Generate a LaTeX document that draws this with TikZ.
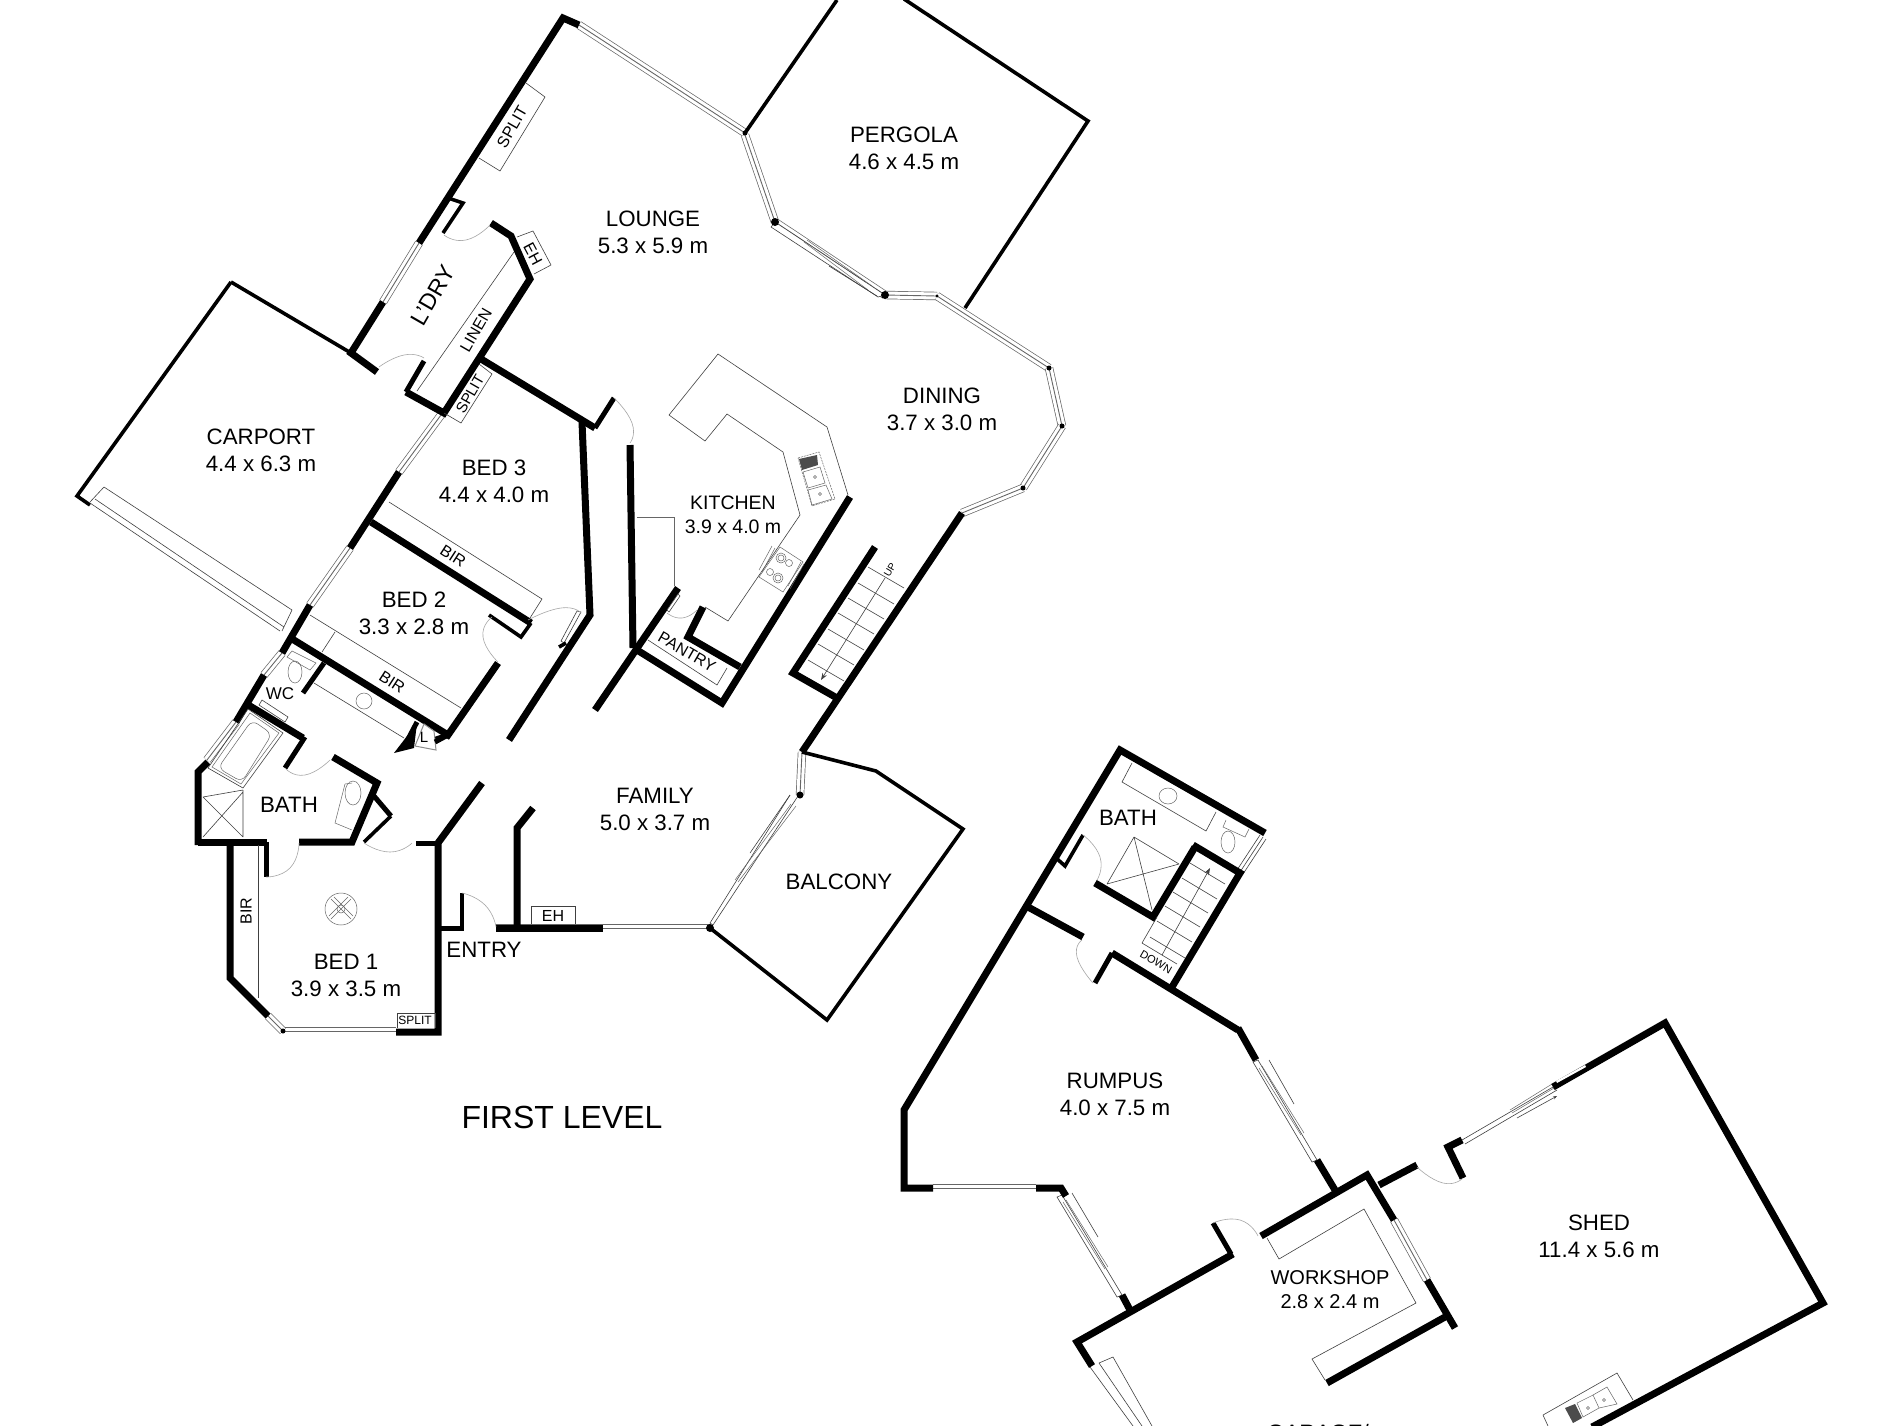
\documentclass[tikz,border=0pt]{standalone}
\usepackage{fontspec}
\setmainfont{Liberation Sans}
\usetikzlibrary{arrows.meta}
\tikzset{
 wall/.style={draw=black,line width=7pt,line join=miter,line cap=butt},
 wallm/.style={draw=black,line width=5pt,line join=miter,line cap=butt},
 walls/.style={draw=black,line width=3.6pt,line join=miter,line cap=butt},
 win/.style={draw=black!60,line width=8.4pt,postaction={draw=white,line width=7pt},postaction={draw=black!60,line width=.9pt}},
 thin/.style={draw=black!75,line width=.6pt},
 fit2/.style={draw=black!60,line width=.5pt},
 swing/.style={draw=black!35,line width=.6pt},
 lbl/.style={font=\fontsize{22.3}{27}\selectfont,align=center,inner sep=0pt,text=black},
 midl/.style={font=\fontsize{19.5}{24}\selectfont,align=center,inner sep=0pt},
 tag/.style={font=\fontsize{16}{16}\selectfont,inner sep=0pt},
 tiny/.style={font=\fontsize{11}{11}\selectfont,inner sep=0pt},
 blob/.style={fill=black},
}
\begin{document}
\begin{tikzpicture}[x=1pt,y=-1pt]
\useasboundingbox (0,0) rectangle (1900,1425);
\fill[white] (0,0) rectangle (1900,1425);
\clip (0,0) rectangle (1900,1425);

% === Windows ===
\path[win] (579,25) -- (745,133);
\path[win] (745,135) -- (775,222);
\path[win] (775,222) -- (885,295);
\path[win] (885,295) -- (937,296);
\path[win] (937,296) -- (1049,368);
\path[win] (1049,368) -- (1062,426);
\path[win] (1062,426) -- (1023,488);
\path[win] (1023,488) -- (962,513);
\path[win] (419,243) -- (383,302);
\path[win] (441,415) -- (399,472);
\path[win] (350,548) -- (310,605);
\path[win] (282,653) -- (264,675);
\path[win] (236,722) -- (207,760);
\path[win] (802,752) -- (800,795);
\path[win] (496,928) -- (710,928);
\path[win] (396,1031) -- (283,1031);
\path[win] (283,1031) -- (268,1016);
\path[win] (933,1188) -- (1036,1188);
\path[win] (1394,1220) -- (1427,1280);

% sliding doors
\draw[thin,fill=white] (798,796) -- (713,925) -- (710,923) -- (790,795);
\draw[fit2] (796,806) -- (738,882) (791,804) -- (735,880);
\draw[thin] (790,795) -- (750,853);
\draw[thin,fill=white] (775,222) -- (885,295) -- (878,297) -- (771,227) -- cycle;
\draw[fit2] (804,242) -- (868,290) (807,240) -- (872,286);
\draw[thin] (829,266) -- (877,296);
\draw[thin,fill=white] (1258,1060) -- (1317,1160) -- (1312,1162) -- (1253,1062) -- cycle;
\draw[fit2] (1262,1066) -- (1304,1133) (1259,1068) -- (1301,1135);
\draw[thin] (1269,1060) -- (1294,1104);
\draw[thin,fill=white] (1062,1195) -- (1122,1295) -- (1117,1297) -- (1057,1197) -- cycle;
\draw[fit2] (1066,1200) -- (1108,1267) (1063,1202) -- (1105,1269);
\draw[thin] (1072,1193) -- (1098,1237);
\draw[thin] (1462,1140) -- (1553,1087) (1465,1144) -- (1557,1090);
\draw[fit2] (1510,1110) -- (1552,1084) (1512,1113) -- (1554,1088);
\draw[thin,-{Stealth[length=4pt]}] (1517,1118) -- (1557,1096);

% === Outdoor outlines ===
\draw[walls] (745,133) -- (837,0);
\draw[walls] (904,-1) -- (1088,121) -- (965,308);
\draw[walls] (802,752) -- (876,771) -- (963,829) -- (827,1020) -- (710,928);
\draw[walls] (231,282) -- (77,496) -- (90,505);
\draw[walls] (231,282) -- (351,353);

% carport door
\draw[thin] (104,487) -- (292,610) -- (282,631) (90,502) -- (104,487);
\draw[thin] (95,499) -- (284,627);
\draw[thin] (90,503) -- (280,631);

% === Main walls, first level ===
\draw[wall] (579,25) -- (563,18) -- (419,243);
\draw[wall] (383,302) -- (351,353) -- (377,372);
\draw[walls] (448,198) -- (463,203) -- (443,233);
\draw[wall] (491,223) -- (511,236) -- (530,279) -- (444,413) -- (406,392);
\draw[wallm] (406,392) -- (424,361);
\draw[wall] (481,359) -- (595,428);
\draw[wallm] (595,428) -- (614,398);
\draw[wall] (399,472) -- (350,548);
\draw[wall] (310,605) -- (282,653);
\draw[wall] (264,675) -- (236,722);
\draw[wall] (371,522) -- (531,623);
\draw[walls] (531,623) -- (521,637) -- (489,615);
\draw[wall] (582,422) -- (590,615) -- (509,740);
\draw[wall] (289,637) -- (448,735) -- (498,663);
\draw[wallm] (448,735) -- (433,740);
\draw[wallm] (324,663) -- (303,693);
\draw[wall] (245,703) -- (303,738);
\draw[wallm] (305,737) -- (285,768);
\draw[walls] (248,703) -- (245,710);
\draw[wall] (333,757) -- (377,783) -- (352,842) -- (299,842);
\draw[wallm] (374,796) -- (391,816);
\draw[walls] (391,816) -- (364,842);
\draw[wall] (198,842) -- (267,842);
\draw[wallm] (266,842) -- (266,877);
\draw[wall] (198,845) -- (198,772) -- (208,762);
\draw[wall] (230,843) -- (230,978) -- (268,1016);
\draw[wall] (482,783) -- (438,843) -- (438,1032) -- (396,1032);
\draw[wallm] (438,843) -- (416,843);
\draw[wallm] (438,928) -- (464,928);
\draw[walls] (462,929) -- (462,893);
\draw[wall] (496,928) -- (603,928);
\draw[wall] (517,928) -- (517,828) -- (533,808);
\draw[wall] (630,445) -- (633,648);
\draw[wall] (678,588) -- (595,710);
\draw[wall] (850,497) -- (722,703) -- (637,650);
\draw[wall] (740,667) -- (688,637) -- (703,607);
\draw[wall] (875,547) -- (793,673) -- (837,698);
\draw[wall] (962,513) -- (802,752);
\fill[blob] (745,133) circle (2.5);
\fill[blob] (775,222) circle (4);
\fill[blob] (885,295) circle (4);
\fill[blob] (937,296) circle (1.6);
\fill[blob] (1049,368) circle (2.5);
\fill[blob] (1062,426) circle (2.5);
\fill[blob] (1023,488) circle (2.5);
\fill[blob] (800,795) circle (3.5);
\fill[blob] (710,928) circle (4);
\fill[blob] (283,1031) circle (2.5);
\fill[blob] (417,723) -- (394,753) -- (414,748) -- cycle;
% L cupboard
\draw[draw=black!45,line width=1pt,fill=white] (424,724) -- (434,731) -- (436,750) -- (415,746) -- cycle;
\draw[wallm] (417,722) -- (405,745);
\draw[wallm] (448,735) -- (435,742);
\node[tag,font=\fontsize{15}{15}\selectfont] (lcup) at (424,737) {L};

% corridor slider & stubs
\draw[thin,fill=white] (581,612) -- (564,643) -- (561,641) -- (577,611) -- cycle;
\draw[walls] (559,647) -- (566,643);
\draw[thin,fill=white] (262,700) -- (288,717) -- (285,722) -- (259,705) -- cycle;
\draw[fit2] (674,586) -- (674,517) -- (637,517);
\draw[thin,fill=white] (669,612) -- (680,596) -- (678,594) -- (667,610) -- cycle;

% Door swings
\draw[swing] plot[smooth,tension=1] coordinates {(444,235) (466,240) (490,225)};
\draw[swing] plot[smooth,tension=1] coordinates {(379,367) (404,355) (424,358)};
\draw[swing] plot[smooth,tension=1] coordinates {(614,398) (632,423) (630,443)};
\draw[swing] plot[smooth,tension=1] coordinates {(492,617) (483,637) (498,662)};
\draw[swing] plot[smooth,tension=1] coordinates {(528,620) (561,608) (581,613)};
\draw[swing] plot[smooth,tension=1] coordinates {(667,613) (682,618) (697,610)};
\draw[swing] plot[smooth,tension=1] coordinates {(285,768) (305,775) (330,760)};
\draw[swing] plot[smooth,tension=1] coordinates {(364,843) (390,852) (412,843)};
\draw[swing] plot[smooth,tension=1] coordinates {(266,877) (290,868) (299,843)};
\draw[swing] plot[smooth,tension=1] coordinates {(462,893) (485,905) (496,927)};

% thin fixtures first level
\draw[thin] (526,83) -- (545,97) -- (500,171) -- (479,158);
\draw[thin] (517,237) -- (533,231) -- (551,265) -- (534,274);
\draw[thin] (514,252) -- (417,391);
\draw[thin] (479,364) -- (492,374) -- (461,423) -- (444,413);
\draw[thin] (389,502) -- (542,599) -- (530,618);
\draw[thin] (310,615) -- (461,708);
\draw[thin] (335,632) -- (322,652);
\draw[thin] (314,683) -- (404,738);
\draw[fit2] (364,701) circle (8);
\draw[fit2] (295,672) ellipse (7 and 11);
\draw[fit2] (300,655) -- (292,651) -- (287,657) -- (310,670) -- (316,663) -- (300,655);
\draw[thin] (531,924) -- (531,906) -- (575,906) -- (575,924);
\draw[thin] (397,1028) -- (397,1013) -- (435,1013) -- (435,1028);
\draw[thin] (258,845) -- (258,998);
\draw[fit2] (341,909) circle (16);
\draw[fit2] (341,909) circle (4);
\draw[fit2] (331,899) -- (351,919) (351,899) -- (331,919);
\draw[fit2] (334,897) -- (353,916) (348,897) -- (329,916);
% bath
\draw[thin] (248,709) -- (283,733) -- (243,788) -- (208,768) -- cycle;
\draw[fit2] (250,713) -- (279,733) -- (241,784) -- (212,767) -- cycle;
\draw[fit2,rounded corners=7pt] (252,720) -- (272,734) -- (242,782) -- (218,768) -- cycle;
\draw[thin] (203,797) -- (243,837) (203,837) -- (243,792) (243,790) -- (243,837) (203,797) -- (243,790);
\draw[fit2] (353,793) ellipse (8 and 12);
\draw[fit2] (352,783) -- (345,784) -- (335,823) -- (352,830);
% kitchen benches
\draw[thin] (705,607) -- (728,621) -- (800,515) -- (783,452) -- (727,414) -- (705,441) -- (669,415) -- (718,354) -- (827,427) -- (848,495);
% cooktop
\draw[fit2,fill=white] (780,547) -- (803,562) -- (783,592) -- (759,577) -- cycle;
\draw[fit2] (781,558) circle (5) (781,558) circle (3);
\draw[fit2] (789,563) circle (3.5);
\draw[fit2] (770,572) circle (3.5);
\draw[fit2] (778,578) circle (5) (778,578) circle (3);
\draw[fit2] (772,546) -- (759,570) (775,548) -- (762,572);
\draw[fit2] (804,564) -- (790,589) (801,562) -- (788,586);
% sink
\draw[fit2,dash pattern=on 2pt off 1pt] (798,458) -- (819,452) -- (835,499) -- (812,506) -- cycle;
\fill[black!70] (799,459) -- (817,455) -- (818,465) -- (802,470) -- cycle;
\draw[fit2] (803,472) -- (820,467) -- (825,483) -- (808,488) -- cycle;
\draw[fit2] (808,490) -- (826,485) -- (832,499) -- (812,505) -- cycle;
\draw[fit2] (815,477) circle (1.5) (820,494) circle (1.5);
% pantry
\draw[thin] (648,640) -- (717,685) -- (727,668);
% stairs first level
\foreach \a/\b in {868/567,858/583,848/598,838/613,828/629,818/644,808/660}{
  \draw[thin] (\a,\b) -- (\a+36,\b+21);
}
\draw[thin,-{Stealth[length=7pt,width=5pt]}] (885,578) -- (821,680);

% === Labels first level ===
\node[lbl] (lounge) at (653,232) {LOUNGE\\5.3 x 5.9 m};
\node[lbl] (pergola) at (904,148) {PERGOLA\\4.6 x 4.5 m};
\node[lbl] (dining) at (942,409) {DINING\\3.7 x 3.0 m};
\node[lbl] (carport) at (261,450) {CARPORT\\4.4 x 6.3 m};
\node[lbl] (bed3) at (494,481) {BED 3\\4.4 x 4.0 m};
\node[lbl] (bed2) at (414,613) {BED 2\\3.3 x 2.8 m};
\node[midl] (kitchen) at (733,515) {KITCHEN\\3.9 x 4.0 m};
\node[lbl] (family) at (655,809) {FAMILY\\5.0 x 3.7 m};
\node[lbl] (balcony) at (839,882) {BALCONY};
\node[lbl] (entry) at (484,950) {ENTRY};
\node[lbl] (bathA) at (289,805) {BATH};
\node[lbl] (bed1) at (346,975) {BED 1\\3.9 x 3.5 m};
\node[lbl,rotate=60,font=\fontsize{23}{27}\selectfont] (ldry) at (433,295) {L'DRY};
\node[tag,rotate=60] (linen) at (476,330) {LINEN};
\node[tag,rotate=60] (split1) at (512,127) {SPLIT};
\node[tag,rotate=60,font=\fontsize{15}{15}\selectfont] (split2) at (470,394) {SPLIT};
\node[tag,rotate=-62] (eh1) at (533,254) {EH};
\node[tag,rotate=-33] (bir3) at (453,556) {BIR};
\node[tag,rotate=-33] (bir2) at (392,682) {BIR};
\node[tag,font=\fontsize{17}{17}\selectfont] (wc) at (280,694) {WC};
\node[tag,rotate=90] (bir1) at (246,911) {BIR};
\node[tag] (eh2) at (553,916) {EH};
\node[tag,font=\fontsize{12}{12}\selectfont] (split3) at (415,1020) {SPLIT};
\node[tag,rotate=-30] (pantry) at (687,652) {PANTRY};
\node[tiny,rotate=60,font=\fontsize{10}{10}\selectfont] (up) at (890,570) {UP};
\node[lbl,font=\fontsize{32}{36}\selectfont] (first) at (562,1117) {FIRST LEVEL};

% === Ground level ===
\draw[thin] (1263,837) -- (1240,872) (1260,835) -- (1237,870) (1266,839) -- (1243,874);
\draw[wall] (1265,833) -- (1120,750) -- (904,1110) -- (904,1188) -- (933,1188);
\draw[wall] (1036,1188) -- (1061,1188) -- (1066,1196);
\draw[wall] (1122,1295) -- (1130,1310);
\draw[wall] (1233,1254) -- (1077,1342) -- (1092,1366);
\draw[wallm] (1231,1254) -- (1213,1223);
\draw[wall] (1261,1236) -- (1367,1175) -- (1394,1220);
\draw[wall] (1427,1280) -- (1455,1328);
\draw[wall] (1445,1317) -- (1327,1383);
\draw[wall] (1379,1185) -- (1417,1165);
\draw[wall] (1238,1028) -- (1256,1060);
\draw[wall] (1238,1030) -- (1112,953);
\draw[wall] (1317,1160) -- (1335,1190);
\draw[wallm] (1112,953) -- (1095,983);
\draw[wall] (1193,845) -- (1240,873) -- (1172,987);
\draw[wall] (1195,847) -- (1153,917) -- (1095,883);
\draw[wall] (1028,907) -- (1083,937);
\draw[walls] (1055,857) -- (1065,866) -- (1083,835);
\draw[wall] (1463,1178) -- (1448,1147) -- (1462,1140);
\draw[wallm] (1463,1178) -- (1448,1147);
\draw[wall] (1553,1087) -- (1665,1023) -- (1823,1303) -- (1592,1427);
\fill[white] (1556,1081) -- (1585,1065) -- (1586,1067) -- (1557,1083) -- cycle;

% ground-level swings
\draw[swing] plot[smooth,tension=1] coordinates {(1083,835) (1100,857) (1097,880)};
\draw[swing] plot[smooth,tension=1] coordinates {(1082,940) (1077,957) (1093,983)};
\draw[swing] plot[smooth,tension=1] coordinates {(1213,1223) (1240,1220) (1258,1236)};
\draw[swing] plot[smooth,tension=1] coordinates {(1417,1167) (1443,1183) (1463,1178)};

% ground-level fixtures
\draw[thin] (1132,763) -- (1122,782) -- (1206,831) -- (1216,812);
\draw[fit2] (1168,796) ellipse (9 and 8);
\draw[fit2] (1228,842) ellipse (7 and 11);
\draw[fit2] (1226,820) -- (1223,827) -- (1245,837) -- (1249,829);
\draw[thin] (1134,837) -- (1179,864) (1134,837) -- (1152,910) (1107,884) -- (1179,864) (1134,837) -- (1107,884);
\foreach \a/\b in {1190/863,1182/878,1173/892,1165/906,1157/921,1150/937,1142/943}{
  \draw[thin] (\a,\b) -- (\a+35,\b+21);
}
\draw[thin] (1142,943) -- (1157,917);
\draw[thin,-{Stealth[length=7pt,width=5pt]}] (1162,955) -- (1210,868);
\draw[thin] (1267,1238) -- (1279,1259) -- (1364,1209) -- (1416,1303) -- (1312,1359) -- (1325,1380);
\draw[thin] (1090,1367) -- (1133,1426);
\draw[thin] (1099,1363) -- (1142,1426);
\draw[thin] (1099,1363) -- (1113,1357) -- (1152,1426);
\draw[thin] (1543,1415) -- (1617,1373) -- (1633,1400);
\draw[thin] (1543,1415) -- (1548,1426);
\fill[black!70] (1565,1408) -- (1575,1404) -- (1582,1418) -- (1573,1423) -- cycle;
\draw[fit2] (1577,1403) -- (1593,1395) -- (1599,1408) -- (1583,1417) -- cycle;
\draw[fit2] (1593,1395) -- (1607,1387) -- (1617,1404) -- (1599,1408);
\draw[fit2] (1588,1408) circle (1.5) (1604,1400) circle (1.5);

\node[lbl] (bathB) at (1128,818) {BATH};
\node[lbl] (rumpus) at (1115,1094) {RUMPUS\\4.0 x 7.5 m};
\node[midl,font=\fontsize{20}{24}\selectfont] (workshop) at (1330,1290) {WORKSHOP\\2.8 x 2.4 m};
\node[lbl] (shed) at (1599,1236) {SHED\\11.4 x 5.6 m};
\node[lbl] (garage) at (1318,1433) {GARAGE/};
\node[tiny,rotate=-30] (down) at (1156,962) {DOWN};
\end{tikzpicture}
\end{document}
